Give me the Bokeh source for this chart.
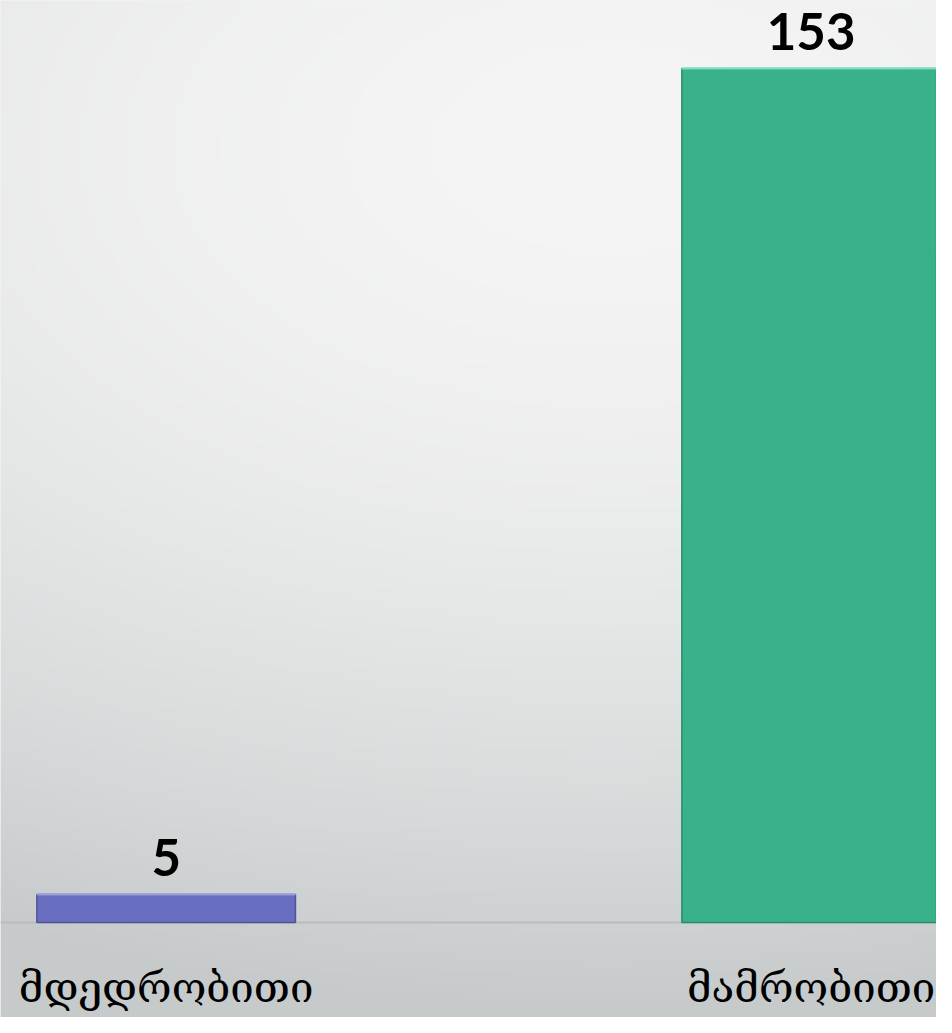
import numpy as np
from bokeh.plotting import figure
from bokeh.models import Range1d, ColumnDataSource
from bokeh.core.properties import value
from bokeh.embed import file_html
from bokeh.resources import INLINE

# ---- data ----
categories = ["მდედრობითი", "მამრობითი"]
values = [5, 153]
value_labels = ["5", "153"]
bar_colors = ["#6a6ec1", "#39b28b"]
edge_colors = ["#4f5399", "#2b8d6d"]
top_colors = ["#9a9dde", "#7fe0bf"]

W, H = 936, 1017
sx, sy = W / 952.0, H / 1033.0
x_pos = [0, 1]
px_per_x = 656.0 * sx
bar_w = 263.0 / 656.0
x_start = -(168.5 * sx) / px_per_x
x_end = x_start + W / px_per_x
base_px = 936.5 * sy
top_px = 69.0 * sy
px_per_unit = (base_px - top_px) / 153.0
y_end = base_px / px_per_unit
y_start = -(H - base_px) / px_per_unit

p = figure(width=W, height=H, output_backend="svg", toolbar_location=None,
           x_range=Range1d(x_start, x_end), y_range=Range1d(y_start, y_end),
           min_border=0, outline_line_color=None)
p.axis.visible = False
p.xgrid.visible = False
p.ygrid.visible = False
p.background_fill_color = "#e6e7e7"
p.border_fill_color = "#e6e7e7"

# ---- background gradient ----
ny, nx = 204, 188
yy, xx = np.mgrid[0:ny, 0:nx]
ref_x = (xx + 0.5) * (952.0 / nx)
ref_y = (ny - 0.5 - yy) * (1033.0 / ny)  # row 0 at bottom
d = np.sqrt(((ref_x - 620) / 1400.0) ** 2 + ((ref_y - 150) / 830.0) ** 2)
t = np.clip(d, 0, 1.05) ** 1.8
light = np.array([0xf5, 0xf5, 0xf5], float)
dark = np.array([0xcb, 0xce, 0xcf], float)
rgb = light[None, None, :] + (dark - light)[None, None, :] * t[..., None]
rgb = np.clip(rgb, 0, 255).astype(np.uint32)
img = (255 << 24) | (rgb[..., 2] << 16) | (rgb[..., 1] << 8) | rgb[..., 0]
img = img.astype(np.uint32)
p.image_rgba(image=[img], x=x_start, y=y_start, dw=x_end - x_start, dh=y_end - y_start)

# ---- baseline ----
p.segment(x0=[x_start], x1=[x_end], y0=[0], y1=[0], line_color="#b9bcbd", line_width=2)

# ---- bars ----
val_gap = 37.0 / px_per_unit
cat_gap = 65.0 / px_per_unit
src = ColumnDataSource(dict(x=x_pos, top=values, color=bar_colors, edge=edge_colors,
                            topc=top_colors, lab=value_labels, cat=categories,
                            left=[x - bar_w / 2 for x in x_pos],
                            right=[x + bar_w / 2 for x in x_pos],
                            ylab=[v + val_gap for v in values],
                            ycat=[-cat_gap for _ in values]))
p.vbar(x="x", top="top", bottom=0, width=bar_w, fill_color="color",
       line_color="edge", line_width=1.5, source=src)
p.segment(x0="left", x1="right", y0="top", y1="top", line_color="topc",
          line_width=2, source=src)

# ---- value labels ----
p.text(x="x", y="ylab", text="lab", source=src, text_align="center",
       text_baseline="alphabetic",
       text_font=value("Lato"), text_font_style="bold", text_font_size="51px",
       text_color="#000000")

# ---- category labels ----
p.text(x="x", y="ycat", text="cat", source=src, text_align="center",
       text_baseline="alphabetic",
       text_font=value("DejaVu Serif"), text_font_size="42px",
       text_color="#000000")

open("out.html", "w").write(file_html(p, INLINE))
